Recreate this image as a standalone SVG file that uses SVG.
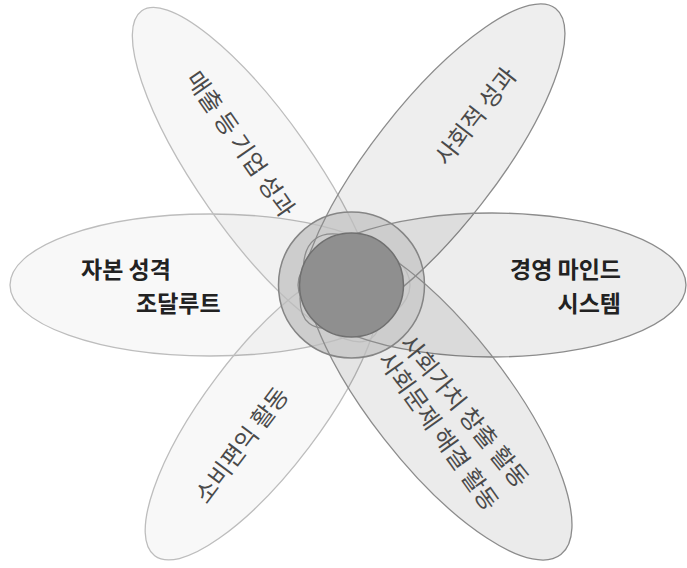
<svg xmlns="http://www.w3.org/2000/svg" width="687" height="568" viewBox="0 0 687 568">
  <style>
    .bg { fill: #ffffff; }
    .petal-light { stroke: #bdbdbd; stroke-width: 1.3; }
    .petal-dark { stroke: #8c8c8c; stroke-width: 1.3; }
    .lbl-h { font-family: "Noto Sans CJK KR", "Noto Sans", sans-serif; font-size: 23px; font-weight: bold; fill: #222222; }
    .lbl-r { font-family: "Noto Sans CJK KR", "Noto Sans", sans-serif; font-size: 24px; fill: #4a4a4a; text-anchor: middle; dominant-baseline: central; }
  </style>
  <defs>
    <clipPath id="coreClip">
      <circle cx="351.5" cy="285" r="73"/>
    </clipPath>
  </defs>
  <rect class="bg" x="0" y="0" width="687" height="568"/>

  <g id="petal-left" fill="#000" fill-opacity="0.028">
    <ellipse id="e-left" class="petal-light" cx="210" cy="285" rx="200" ry="71"/>
  </g>
  <g id="petal-upper-left" fill="#000" fill-opacity="0.032">
    <ellipse id="e-ul" class="petal-light" cx="256.5" cy="174.6" rx="200" ry="58" transform="rotate(55 256.5 174.6)"/>
  </g>
  <g id="petal-lower-left" fill="#000" fill-opacity="0.028">
    <ellipse id="e-ll" class="petal-light" cx="263" cy="412" rx="180" ry="58" transform="rotate(-53 263 412)"/>
  </g>
  <g id="petal-upper-right" fill="#000" fill-opacity="0.068">
    <ellipse id="e-ur" class="petal-dark" cx="432.5" cy="166" rx="200" ry="62" transform="rotate(-52 432.5 166)"/>
  </g>
  <g id="petal-right" fill="#000" fill-opacity="0.07">
    <ellipse id="e-right" class="petal-dark" cx="492" cy="285" rx="194" ry="72"/>
  </g>
  <g id="petal-lower-right" fill="#000" fill-opacity="0.08">
    <ellipse id="e-lr" class="petal-dark" cx="437.7" cy="397" rx="200" ry="68" transform="rotate(52 437.7 397)"/>
  </g>

  <g id="core">
    <circle cx="351.5" cy="285" r="73" fill="#cdcdcd"/>
    <g clip-path="url(#coreClip)" fill="none">
      <use href="#e-left"/>
      <use href="#e-ul"/>
      <use href="#e-ll"/>
      <use href="#e-ur"/>
      <use href="#e-right"/>
      <use href="#e-lr"/>
    </g>
    <circle cx="351.5" cy="285" r="73" fill="none" stroke="#858585" stroke-width="1.5"/>
    <circle cx="351.5" cy="285" r="52" fill="#8f8f8f" stroke="#707070" stroke-width="1.5"/>
  </g>

  <g id="connectors"></g>

  <g id="labels">
    <g id="label-left">
      <text class="lbl-h" x="81" y="278">자본 성격</text>
      <text class="lbl-h" x="136" y="312">조달루트</text>
    </g>
    <g id="label-right">
      <text class="lbl-h" x="621" y="278" text-anchor="end">경영 마인드</text>
      <text class="lbl-h" x="621" y="312" text-anchor="end">시스템</text>
    </g>
    <text id="label-upper-left" class="lbl-r" transform="translate(242 143) rotate(55.3)">매출 등 기업 성과</text>
    <text id="label-upper-right" class="lbl-r" transform="translate(474 115) rotate(-52)">사회적 성과</text>
    <text id="label-lower-left" class="lbl-r" transform="translate(240 444) rotate(-53)">소비편익 활동</text>
    <g id="label-lower-right">
      <text class="lbl-r" transform="translate(466 410) rotate(51)">사회가치 창출 활동</text>
      <text class="lbl-r" transform="translate(440 430) rotate(54.5)">사회문제 해결 활동</text>
    </g>
  </g>
</svg>
